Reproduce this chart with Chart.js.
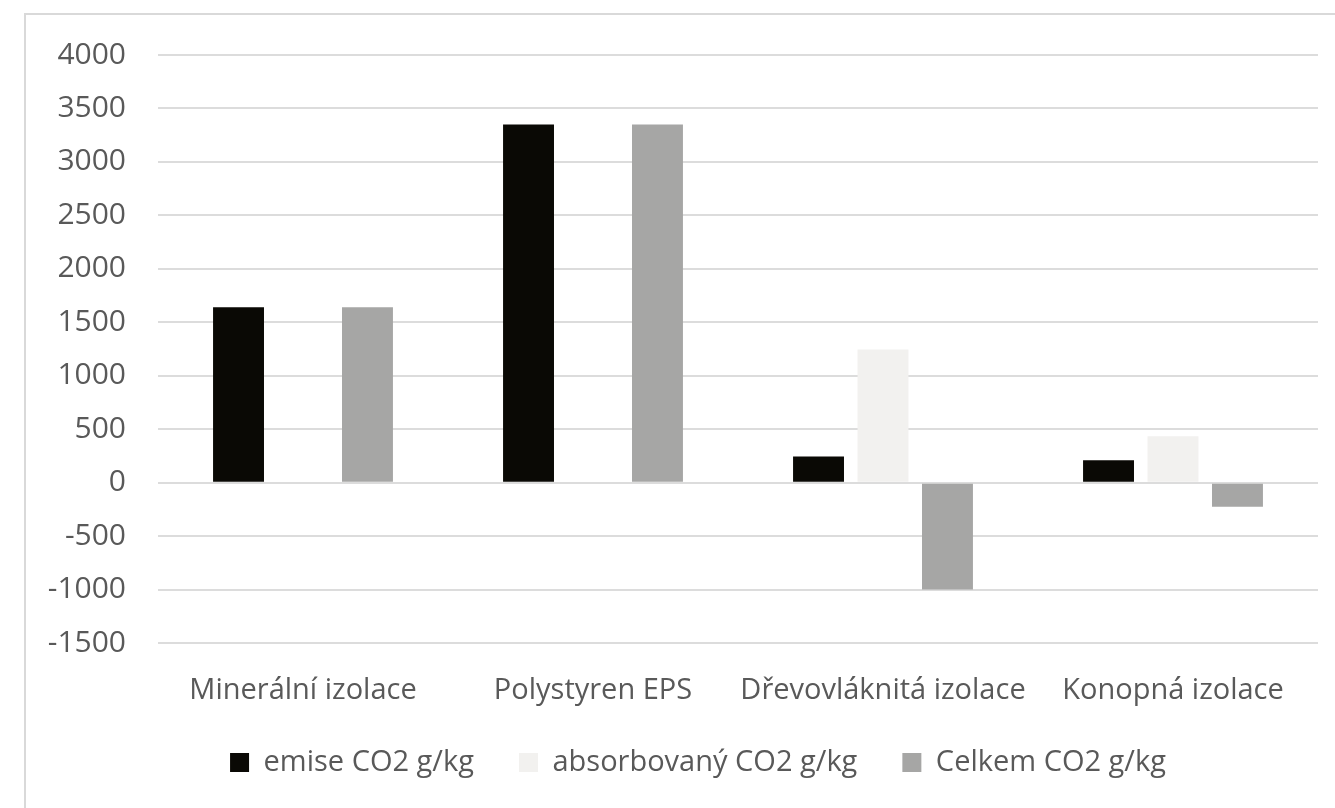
<!DOCTYPE html>
<html>
<head>
<meta charset="utf-8">
<script src="https://cdn.jsdelivr.net/npm/chart.js@4"></script>
<style>
  html, body { margin: 0; padding: 0; background: #ffffff; }
  #wrap { position: relative; width: 1335px; height: 808px; overflow: hidden; }
  #frame { position: absolute; left: 24px; top: 13px; width: 1330px; height: 820px;
           border: 2px solid #d9d9d9; box-sizing: border-box; }
  #c { position: absolute; left: 0; top: 0; }
</style>
</head>
<body>
<div id="wrap">
  <div id="frame"></div>
  <canvas id="c" width="1335" height="808"></canvas>
</div>
<script>
// Insulation materials and their CO2 balance (g/kg)
const categories = ['Minerální izolace', 'Polystyren EPS', 'Dřevovláknitá izolace', 'Konopná izolace'];
const seriesNames = ['emise CO2 g/kg', 'absorbovaný CO2 g/kg', 'Celkem CO2 g/kg'];
const emise = [1640, 3350, 245, 210];
const absorbovany = [0, 0, 1245, 435];
const celkem = [1640, 3350, -1000, -225];
const yMin = -1500;
const yMax = 4000;
const yStep = 500;

const textColor = '#595959';
const fontFamily = '"Open Sans", "Noto Sans", sans-serif';

// Nudges the legend block after layout so it sits under the axis labels
const legendShift = {
  id: 'legendShift',
  afterLayout(chart) {
    const lg = chart.legend;
    if (!lg) return;
    lg.top -= 21;
    lg.bottom -= 21;
    lg.left += 78;
  }
};

new Chart(document.getElementById('c'), {
  type: 'bar',
  data: {
    labels: categories,
    datasets: [
      { label: seriesNames[0], data: emise, backgroundColor: '#0a0905' },
      { label: seriesNames[1], data: absorbovany, backgroundColor: '#f2f1ef' },
      { label: seriesNames[2], data: celkem, backgroundColor: '#a6a6a5' }
    ]
  },
  plugins: [legendShift],
  options: {
    responsive: false,
    animation: false,
    devicePixelRatio: 1,
    categoryPercentage: 0.667,
    barPercentage: 0.79,
    layout: { padding: { left: 0, right: 17, top: 55, bottom: 0 } },
    plugins: {
      tooltip: { enabled: false },
      legend: {
        position: 'bottom',
        labels: {
          color: textColor,
          font: { family: fontFamily, size: 29 },
          boxWidth: 19,
          boxHeight: 19,
          padding: 45
        }
      }
    },
    scales: {
      x: {
        grid: { display: false, drawTicks: false },
        border: { display: false },
        ticks: { color: textColor, font: { family: fontFamily, size: 29 }, padding: 30, maxRotation: 0, autoSkip: false },
        afterFit: (s) => { s.height = 81; }
      },
      y: {
        min: yMin,
        max: yMax,
        grid: { color: '#dcdcdc', lineWidth: 2, drawTicks: false },
        border: { display: false },
        ticks: {
          stepSize: yStep,
          color: textColor,
          font: { family: fontFamily, size: 30 },
          padding: 32,
          callback: (v) => String(v)
        },
        afterFit: (s) => { s.width = 158; }
      }
    }
  }
});
</script>
</body>
</html>
